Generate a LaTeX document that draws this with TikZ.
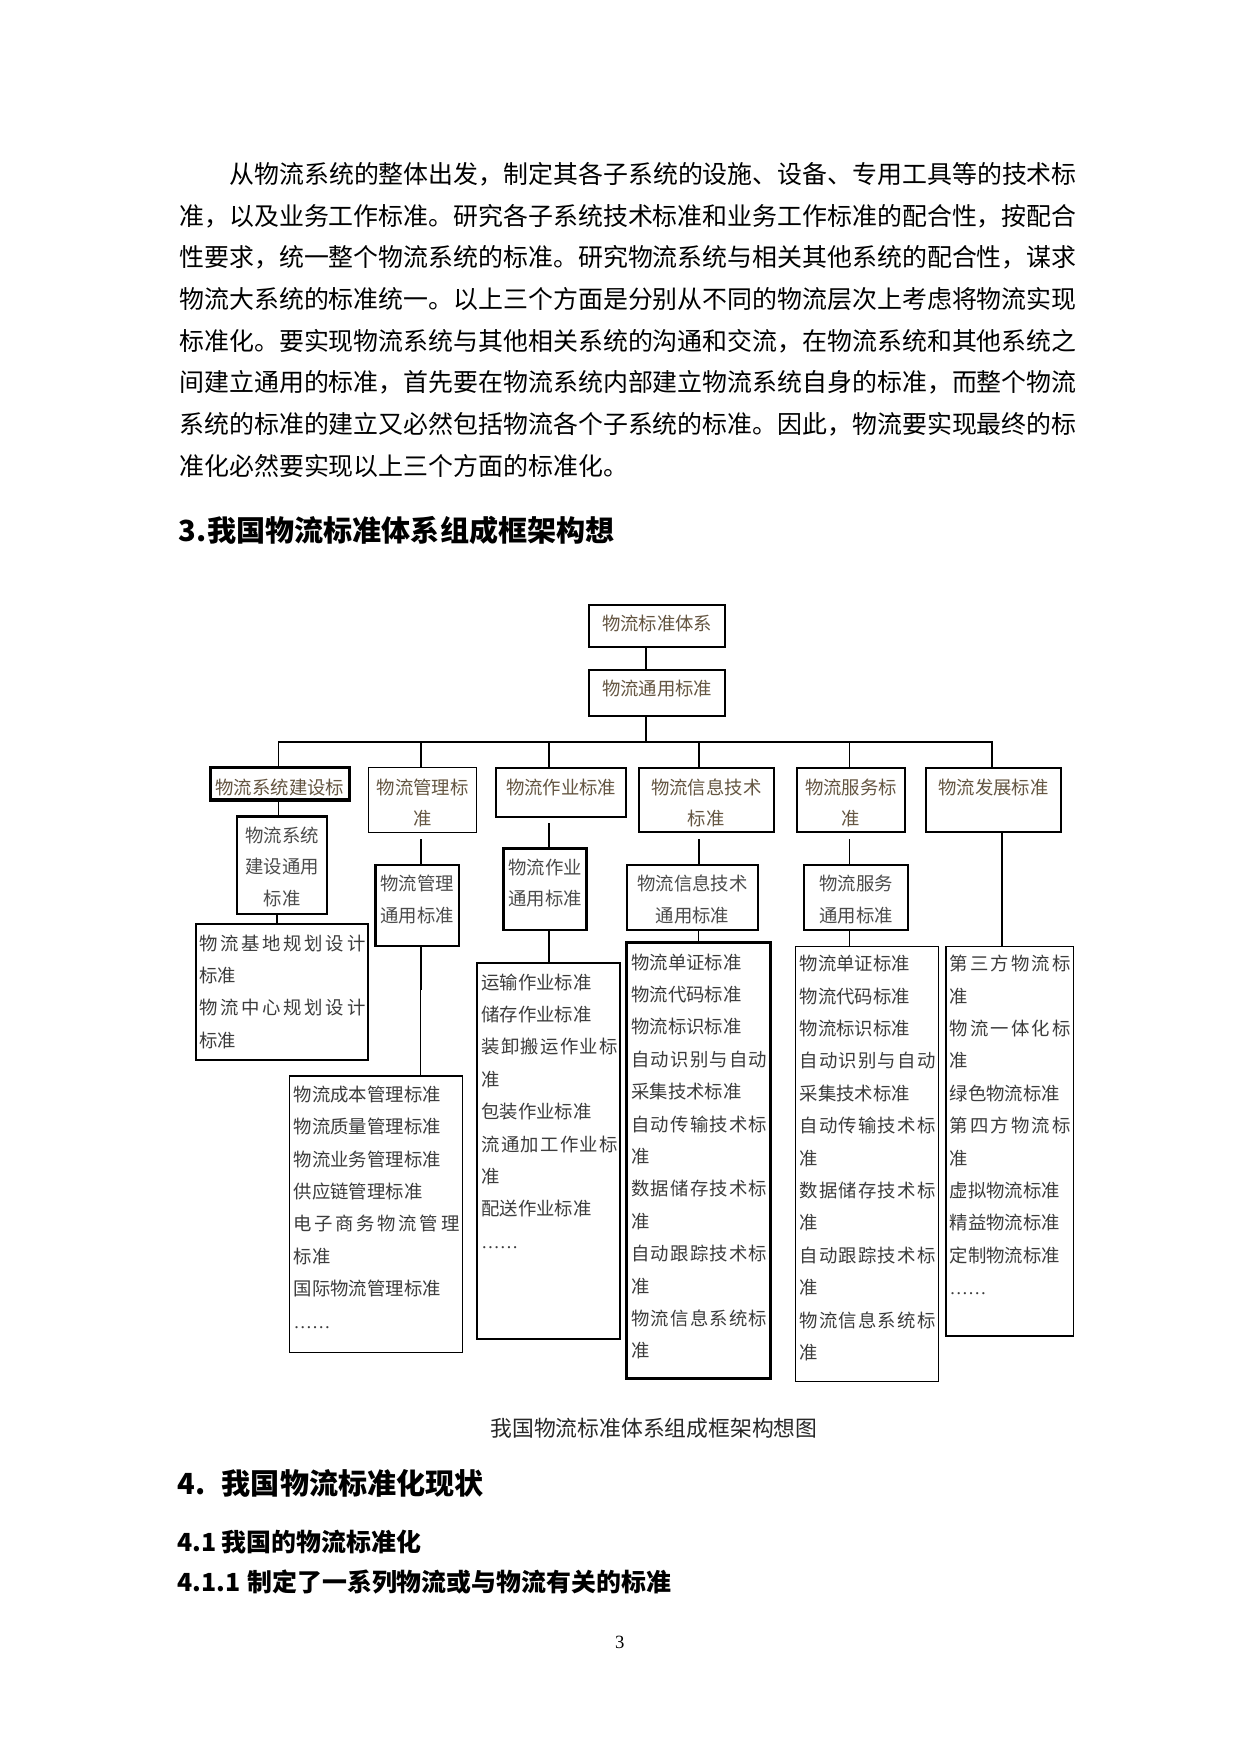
\documentclass[tikz,border=0pt]{standalone}
\usepackage{fontspec}
\newfontfamily\cjk{Noto Sans CJK SC}
\newfontfamily\lser{Liberation Serif}
\usetikzlibrary{fit}
\newdimen\px \px=0.16922mm
\definecolor{brownc}{RGB}{100,85,65}
\definecolor{grayc}{RGB}{75,75,75}
\definecolor{listc}{RGB}{60,60,60}
\newcommand\myDfont{\cjk\fontsize{8.85pt}{15.2pt}\selectfont}
\newcommand\myLfont{\cjk\fontsize{8.85pt}{15.6pt}\selectfont}
\makeatletter
\newcommand\sx[2]{\hbox to #1\px{\sx@loop#2\@nil}}
\def\sx@loop#1#2\@nil{#1\ifx\relax#2\relax\else\hfil\sx@loop#2\@nil\fi}
\makeatother
\newcommand\mydots{{\lser ……}}
\tikzset{
  box/.style={draw, inner sep=0pt},
  w1/.style={line width=0.5pt},
  w2/.style={line width=0.95pt},
  w3/.style={line width=1.25pt},
  w4/.style={line width=1.45pt},
  c1/.style={line width=0.5pt},
  c2/.style={line width=1pt},
  t2/.style={inner sep=0pt, font=\myDfont, text=brownc, align=center, anchor=north},
  t3/.style={inner sep=0pt, font=\myDfont, text=grayc, align=center, anchor=north},
  tl/.style={inner sep=0pt, font=\myLfont, text=listc, align=left, anchor=north west},
  body/.style={inner sep=0pt, font=\cjk\fontsize{12pt}{12pt}\selectfont, anchor=base west},
  hA/.style={inner sep=0pt, font=\cjk\bfseries\fontsize{14pt}{14pt}\selectfont, anchor=base west},
  hB/.style={inner sep=0pt, font=\cjk\bfseries\fontsize{12pt}{12pt}\selectfont, anchor=base west},
}
\begin{document}
\begin{tikzpicture}[x=0.16922mm,y=-0.16922mm]
\fill[white] (0,0) rectangle (1241,1754);
\useasboundingbox (0,0) rectangle (1241,1754);

% ---------- body text ----------
\node[body] (p1) at (229,183.5) {从物流系统的整体出发，制定其各子系统的设施、设备、专用工具等的技术标};
\node[body] (p2) at (179,225.2) {准，以及业务工作标准。研究各子系统技术标准和业务工作标准的配合性，按配合};
\node[body] (p3) at (179,266.9) {性要求，统一整个物流系统的标准。研究物流系统与相关其他系统的配合性，谋求};
\node[body] (p4) at (179,308.6) {物流大系统的标准统一。以上三个方面是分别从不同的物流层次上考虑将物流实现};
\node[body] (p5) at (179,350.3) {标准化。要实现物流系统与其他相关系统的沟通和交流，在物流系统和其他系统之};
\node[body] (p6) at (179,392.0) {间建立通用的标准，首先要在物流系统内部建立物流系统自身的标准，而整个物流};
\node[body] (p7) at (179,433.7) {系统的标准的建立又必然包括物流各个子系统的标准。因此，物流要实现最终的标};
\node[body] (p8) at (179,475.4) {准化必然要实现以上三个方面的标准化。};

\node[hA] (h3) at (178,541) {\makebox[29\px][l]{3.}我国物流标准体系组成框架构想};

% ---------- boxes ----------
\node[box,w2,fit={(589.3,604.7)(725,647.3)}] (b1) {};
\node[box,w2,fit={(589.3,670)(725,716)}] (b2) {};
\node[box,w4,fit={(210.7,767.7)(349,800)}] (L1) {};
\node[box,w1,fit={(368.6,767.7)(476.8,832.3)}] (L2) {};
\node[box,w2,fit={(496,767.7)(626.4,816.7)}] (L3) {};
\node[box,w2,fit={(638.7,767.7)(774,832.3)}] (L4) {};
\node[box,w2,fit={(796.7,767.7)(905.3,832.3)}] (L5) {};
\node[box,w2,fit={(926,767.7)(1061,832.3)}] (L6) {};
\node[box,w3,fit={(236.8,816.7)(327.1,914)}] (M1) {};
\node[box,w3,fit={(375.7,865)(458.9,946)}] (M2) {};
\node[box,w3,fit={(503.6,848.3)(586.4,930)}] (M3) {};
\node[box,w2,fit={(626.7,865)(758.3,930)}] (M4) {};
\node[box,w2,fit={(804.3,865)(908.3,930)}] (M5) {};
\node[box,w2,fit={(195.7,924)(368.3,1060)}] (N1) {};
\node[box,w1,fit={(289.3,1076)(462.7,1352.3)}] (N2) {};
\node[box,w2,fit={(476.7,962.7)(620,1339)}] (N3) {};
\node[box,w4,fit={(626.7,942.7)(770,1378.3)}] (N4) {};
\node[box,w1,fit={(795.7,946.7)(938.3,1381.7)}] (N5) {};
\node[box,w1,fit={(946,946.7)(1073.3,1336)}] (N6) {};

% ---------- box texts ----------
\node[t2] (tb1) at (657.2,608.1) {\strut 物流标准体系};
\node[t2] (tb2) at (657.2,673.1) {\strut 物流通用标准};
\node[t2] (tL1) at (279.9,771.5) {\strut 物流系统建设标};
\node[t2] (tL2) at (422.7,771.5) {\strut 物流管理标\\准};
\node[t2] (tL3) at (561.2,771.5) {\strut 物流作业标准};
\node[t2] (tL4) at (706.3,771.5) {\strut 物流信息技术\\标准};
\node[t2] (tL5) at (851,771.5) {\strut 物流服务标\\准};
\node[t2] (tL6) at (993.5,771.5) {\strut 物流发展标准};
\node[t3] (tM1) at (282,819.8) {\strut 物流系统\\建设通用\\标准};
\node[t3] (tM2) at (417.3,868.1) {\strut 物流管理\\通用标准};
\node[t3] (tM3) at (545,851.5) {\strut 物流作业\\通用标准};
\node[t3] (tM4) at (692.5,868.1) {\strut 物流信息技术\\通用标准};
\node[t3] (tM5) at (856.3,868.1) {\strut 物流服务\\通用标准};

\node[tl] (tN1) at (199,926.9) {\strut\sx{166}{物流基地规划设计}\\标准\\\sx{166}{物流中心规划设计}\\标准};
\node[tl] (tN2) at (293.3,1078.2) {\strut 物流成本管理标准\\物流质量管理标准\\物流业务管理标准\\供应链管理标准\\\sx{165.7}{电子商务物流管理}\\标准\\国际物流管理标准\\\mydots};
\node[tl] (tN3) at (481,965.9) {\strut 运输作业标准\\储存作业标准\\\sx{136.3}{装卸搬运作业标}\\准\\包装作业标准\\\sx{136.3}{流通加工作业标}\\准\\配送作业标准\\\mydots};
\node[tl] (tN4) at (631,945.9) {\strut 物流单证标准\\物流代码标准\\物流标识标准\\\sx{135.7}{自动识别与自动}\\采集技术标准\\\sx{135.7}{自动传输技术标}\\准\\\sx{135.7}{数据储存技术标}\\准\\\sx{135.7}{自动跟踪技术标}\\准\\\sx{135.7}{物流信息系统标}\\准};
\node[tl] (tN5) at (799.3,947.5) {\strut 物流单证标准\\物流代码标准\\物流标识标准\\\sx{135.7}{自动识别与自动}\\采集技术标准\\\sx{135.7}{自动传输技术标}\\准\\\sx{135.7}{数据储存技术标}\\准\\\sx{135.7}{自动跟踪技术标}\\准\\\sx{135.7}{物流信息系统标}\\准};
\node[tl] (tN6) at (949.3,947.5) {\strut\sx{120.7}{第三方物流标}\\准\\\sx{120.7}{物流一体化标}\\准\\绿色物流标准\\\sx{120.7}{第四方物流标}\\准\\虚拟物流标准\\精益物流标准\\定制物流标准\\\mydots};

% ---------- connectors ----------
\coordinate (ax) at (645.7,741.7);
\coordinate (bl) at (278.6,741.7);
\coordinate (br) at (991.7,741.7);
\draw[c2] (ax|-b1.south) -- (ax|-b2.north);
\draw[c2] (ax|-b2.south) -- (ax);
\draw[c2,line cap=rect] (bl) -- (br);
\draw[c1] (bl) -- (bl|-L1.north);
\draw[c2] (421,741.7) -- (421,0|-L2.north);
\draw[c2] (549,741.7) -- (549,0|-L3.north);
\draw[c2] (699,741.7) -- (699,0|-L4.north);
\draw[c1] (849.3,741.7) -- (849.3,0|-L5.north);
\draw[c2] (br) -- (br|-L6.north);

\coordinate (g2) at (421,839);
\coordinate (g3) at (549,823.3);
\coordinate (g4) at (699,839);
\coordinate (g5) at (849.3,839);
\draw[c1] (bl|-L1.south) -- (bl|-M1.north);
\draw[c2] (g2) -- (g2|-M2.north);
\draw[c2] (g3) -- (g3|-M3.north);
\draw[c2] (g4) -- (g4|-M4.north);
\draw[c1] (g5) -- (g5|-M5.north);
\draw[c2] (1001.7,0|-L6.south) -- (1001.7,0|-N6.north);

\coordinate (k2) at (420.7,990);
\draw[c2] (276.8,0|-M1.south) -- (276.8,0|-N1.north);
\draw[c2] (k2|-M2.south) -- (k2);
\draw[c1] (k2) -- (k2|-N2.north);
\draw[c2] (549,0|-M3.south) -- (549,0|-N3.north);
\draw[c1] (698.3,0|-M4.south) -- (698.3,0|-N4.north);
\draw[c1] (849.3,0|-M5.south) -- (849.3,0|-N5.north);

% ---------- caption and headings ----------
\node[inner sep=0pt, font=\cjk\fontsize{10.5pt}{10.5pt}\selectfont, text={rgb,255:red,40;green,40;blue,40}, anchor=base] (cap) at (654,1436) {我国物流标准体系组成框架构想图};
\node[hA] (h4) at (177,1494) {\makebox[44.5\px][l]{4.}我国物流标准化现状};
\node[hB] (h41) at (177,1551) {\makebox[44.5\px][l]{4.1}我国的物流标准化};
\node[hB] (h411) at (177,1591) {\makebox[70\px][l]{4.1.1}制定了一系列物流或与物流有关的标准};
\node[inner sep=0pt, font=\lser\fontsize{9pt}{9pt}\selectfont, anchor=base] (pg) at (619.7,1648) {3};
\end{tikzpicture}
\end{document}
